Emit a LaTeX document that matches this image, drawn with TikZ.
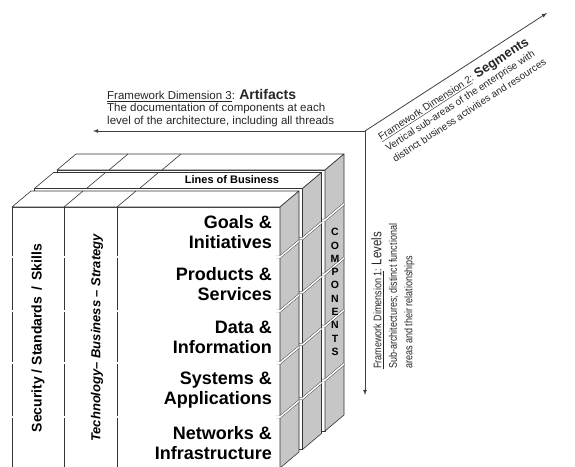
\documentclass[tikz,border=0pt]{standalone}
\usepackage{fontspec}
\setmainfont{Liberation Sans}
\newfontfamily\narrowfont[FakeStretch=0.82]{Liberation Sans}
\usetikzlibrary{arrows, positioning}
\tikzstyle{face} = [fill=white, draw=black!80, line width=0.6pt, line join=round]
\tikzstyle{side} = [fill=gray!45, draw=black!80, line width=0.6pt, line join=round]
\tikzstyle{rim} = [draw=black!80, line width=0.6pt]
\tikzstyle{sep} = [draw=black!75, line width=0.45pt, double=white, double distance=1.5pt]
\tikzstyle{level} = [anchor=east, align=right, inner sep=0pt, font=\fontsize{18}{20}\selectfont\bfseries]
\tikzstyle{column} = [rotate=90, inner sep=0pt, font=\fontsize{14}{16}\selectfont\bfseries]
\tikzstyle{dimarrow} = [->, >=latex, draw=black!75, line width=0.8pt]
\tikzstyle{dimtext} = [inner sep=0pt, align=left, text=black!85]

\begin{document}
\begin{tikzpicture}[x=1pt, y=-1pt]
    \useasboundingbox (0,0) rectangle (575,466);

    \foreach \s in {2,1,0} {
        \pgfmathsetmacro\xa{12+22.5*\s}
        \pgfmathsetmacro\ya{207-18.5*\s}
        \pgfmathsetmacro\xb{\xa+268}
        \pgfmathsetmacro\yb{\ya+261}
        \filldraw[face] (\xa,\ya) rectangle (\xb,\yb);
        \filldraw[face] (\xa,\ya) -- ++(19,-16) -- ++(268,0) -- (\xb,\ya) -- cycle;
        \filldraw[side] (\xb,\ya) -- ++(19,-16) -- ++(0,261) -- (\xb,\yb) -- cycle;
        \draw[rim] (\xa+52,\ya) -- ++(19,-16) (\xa+105,\ya) -- ++(19,-16);
        \foreach \r in {257,311,363,417}
            \draw[sep] (\xb-4,\r-18.5*\s) -- (\xb,\r-18.5*\s) -- ++(19,-16);
    }

    \draw[rim] (64,207) -- (64,468) (117,207) -- (117,468);
    \foreach \r in {257,311,363,417} {
        \draw[sep] (12,\r) -- (21,\r);
        \draw[sep] (51,\r) -- (79,\r);
        \draw[sep] (110,\r) -- (280,\r);
    }

    \node[level] (goals) at (272,232) {Goals \&\\Initiatives};
    \node[level] (products) at (272,284) {Products \&\\Services};
    \node[level] (data) at (272,337) {Data \&\\Information};
    \node[level] (systems) at (272,390) {Systems \&\\Applications};
    \node[level] (networks) at (272,443) {Networks \&\\Infrastructure};

    \node[column] (security) at (38,338) {Security / Standards \,/\, Skills};
    \node[column, font=\fontsize{13}{15}\selectfont\bfseries\itshape] (strategy) at (97,338) {Technology– Business – Strategy};
    \node[inner sep=0pt, font=\fontsize{11}{12}\selectfont\bfseries] (business) at (232,180) {Lines of Business};
    \node[align=center, inner sep=0pt, font=\fontsize{10.5}{13.3}\selectfont\bfseries] (components) at (335,292) {C\\O\\M\\P\\O\\N\\E\\N\\T\\S};

    \coordinate (origin) at (365,131);
    \coordinate (artifacts) at (93,131);
    \coordinate (segments) at (547,13);
    \coordinate (levels) at (365,395);
    \draw[dimarrow] (origin) -- (artifacts);
    \draw[dimarrow] (origin) -- (segments);
    \draw[dimarrow] (origin) -- (levels);

    \node[dimtext, anchor=north west, font=\fontsize{11.5}{12.5}\selectfont] (arttext) at (107,89) {\underline{Framework Dimension 3}: {\fontsize{14}{14}\selectfont\bfseries Artifacts}\\The documentation of components at each\\level of the architecture, including all threads};
    \node[dimtext, rotate=33, anchor=north west, font=\fontsize{10}{13}\selectfont] (segtext) at (376,133) {\underline{Framework Dimension 2}: {\fontsize{13}{13}\selectfont\bfseries Segments}\\Vertical sub-areas of the enterprise with\\distinct business activities and resources};
    \node[dimtext, rotate=90, anchor=north west, font=\narrowfont\fontsize{11}{15.5}\selectfont] (levtext) at (371,369) {\underline{Framework Dimension 1}: {\fontsize{14}{14}\selectfont Levels}\\Sub-architectures; distinct functional\\areas and their relationships};
\end{tikzpicture}
\end{document}
